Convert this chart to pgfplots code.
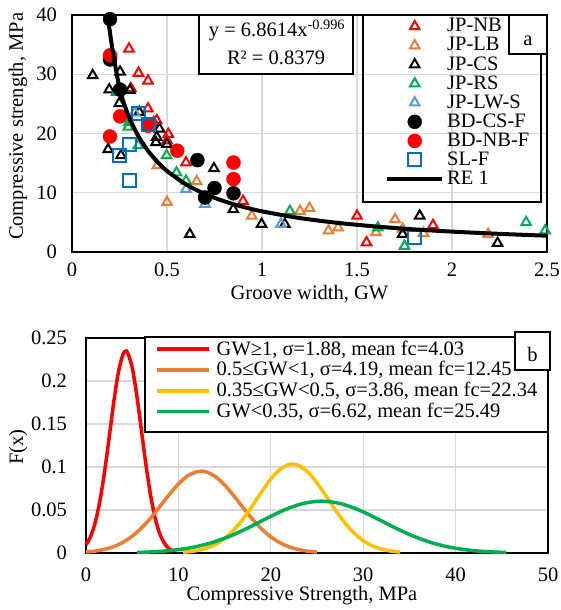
\documentclass[border=0pt]{standalone}
\usepackage{fontspec}
\setmainfont{Liberation Serif}
\usepackage{pgfplots}
\pgfplotsset{compat=1.18}

\definecolor{jpnb}{HTML}{FF0000}
\definecolor{jplb}{HTML}{ED7D31}
\definecolor{jprs}{HTML}{00B050}
\definecolor{jplw}{HTML}{5B9BD5}
\definecolor{slf}{HTML}{0070C0}
\definecolor{gwy}{HTML}{FFC000}
\definecolor{gridgray}{HTML}{D9D9D9}

% legend text cells with fixed height
\newcommand\lsa[1]{\rule[-4.6pt]{0pt}{18.6pt}#1}
\newcommand\lsb[1]{\rule[-5pt]{0pt}{19.7pt}#1}

\pgfplotsset{
  excel/.style={
    scale only axis,
    anchor=south west,
    axis line style={line width=1.5pt},
    grid=major,
    major grid style={gridgray, line width=1.2pt},
    major tick length=0pt,
    /pgf/number format/assume math mode=true,
    legend cell align=left,
  },
  tri/.style={only marks, mark=triangle, mark size=5.5pt, color=#1,
    mark options={line width=2pt}},
}

\begin{document}
\fontsize{20.5pt}{24pt}\selectfont
\begin{tikzpicture}[x=1pt,y=1pt]
\useasboundingbox (0,0) rectangle (561,610);

% ---------------- panel a ----------------
\begin{axis}[excel, at={(72pt,358pt)}, width=475pt, height=237pt,
  xmin=0, xmax=2.5, ymin=0, ymax=40,
  xtick={0,0.5,1,1.5,2,2.5}, xticklabels={0,0.5,1,1.5,2,2.5},
  ytick={0,10,20,30,40}, yticklabels={0,10,20,30,40},
  yticklabel shift=8pt, xticklabel shift=4pt,
  xlabel={Groove width, GW}, ylabel={Compressive strength, MPa},
  xlabel style={at={(axis description cs:0.5,-0.175)}, anchor=center},
  ylabel style={at={(axis description cs:-0.1137,0.53)}, anchor=center},
  clip mode=individual,
  legend style={at={(axis description cs:0.659,0.9928)}, anchor=north west,
    draw=none, fill=none, inner sep=0pt, row sep=0pt, column sep=3pt,
    nodes={inner xsep=0pt, inner ysep=1pt}},
  legend image code/.code={%
    \path[draw=none, fill=none] (0pt,-7pt) rectangle (55pt,7pt);
    \draw[mark repeat=2,mark phase=2,#1] plot coordinates {(0pt,0pt) (27.5pt,0pt) (55pt,0pt)};},
]
\addplot[tri=jpnb] coordinates {
  (0.30,34.3) (0.35,30.2) (0.40,28.9) (0.31,27.6) (0.40,24.2) (0.43,21.9)
  (0.446,22.2) (0.50,18.8) (0.507,19.9) (0.60,15.1) (0.90,8.6) (1.50,6.1)
  (1.55,1.6) (1.90,4.5)};
\addlegendentry{\lsa{JP-NB}}
\addplot[tri=jplb] coordinates {
  (0.449,14.6) (0.50,8.4) (0.656,11.9) (0.946,6.1) (1.2,6.9) (1.25,7.4)
  (1.35,3.6) (1.40,4.1) (1.60,3.3) (1.70,5.5) (1.74,3.9) (1.85,3.2) (2.19,3.0)};
\addlegendentry{\lsa{JP-LB}}
\addplot[tri=black] coordinates {
  (0.109,29.8) (0.253,30.4) (0.196,27.4) (0.305,27.3) (0.249,25.1) (0.354,23.6)
  (0.446,19.4) (0.50,18.2) (0.19,17.3) (0.258,16.3) (0.442,18.5) (0.46,20.8)
  (0.747,14.1) (0.62,3.0) (0.849,7.2) (0.998,4.7) (1.12,4.7) (1.83,6.1)
  (1.74,3.0) (2.24,1.5)};
\addlegendentry{\lsa{JP-CS}}
\addplot[tri=jprs] coordinates {
  (0.235,27.0) (0.30,21.9) (0.296,21.1) (0.349,18.0) (0.498,16.3) (0.55,13.4)
  (0.60,12.0) (1.147,6.9) (1.61,4.1) (1.75,1.0) (2.39,5.0) (2.49,3.6)};
\addlegendentry{\lsa{JP-RS}}
\addplot[tri=jplw] coordinates {
  (0.33,23.5) (0.60,10.6) (0.70,8.1) (1.10,4.7)};
\addlegendentry{\lsa{JP-LW-S}}
\addplot[only marks, mark=*, mark size=7pt, black] coordinates {
  (0.2,39.3) (0.2,32.5) (0.253,27.4) (0.66,15.5) (0.70,9.2) (0.75,10.8) (0.85,9.9)};
\addlegendentry{\lsa{BD-CS-F}}
\addplot[only marks, mark=*, mark size=7pt, red] coordinates {
  (0.2,33.2) (0.2,19.5) (0.253,22.9) (0.40,21.3) (0.554,17.1) (0.85,15.1) (0.85,12.3)};
\addlegendentry{\lsa{BD-NB-F}}
\addplot[only marks, mark=square, mark size=6.5pt, slf, mark options={line width=2pt}] coordinates {
  (0.25,16.3) (0.30,18.1) (0.305,12.1) (0.35,23.3) (0.40,21.5) (1.8,2.4)};
\addlegendentry{\lsa{SL-F}}
\addplot[black, line width=4pt, smooth, no markers] coordinates {
  (0.19,39.3) (0.214,34.0) (0.253,27.3) (0.3,22.76) (0.35,19.52) (0.4,17.09)
  (0.45,15.20) (0.5,13.68) (0.6,11.41) (0.7,9.79) (0.8,8.57) (0.9,7.62)
  (1.0,6.86) (1.2,5.72) (1.4,4.91) (1.6,4.30) (1.8,3.82) (2.0,3.44)
  (2.25,3.06) (2.5,2.75)};
\addlegendentry{\lsa{RE 1}}
\end{axis}

% legend frame, equation box, panel letter
\draw[line width=1.5pt] (363,408) rectangle (541,595);
\draw[line width=1.5pt, fill=white] (199,536) rectangle (353,595);
\node[anchor=base] at (277,573) {y = 6.8614x\textsuperscript{-0.996}};
\node[anchor=base] at (276,545) {R² = 0.8379};
\draw[line width=1.5pt, fill=white] (509,556) rectangle (547,595);
\node[anchor=base] at (528,564) {a};

% ---------------- panel b ----------------
\begin{axis}[excel, at={(86pt,57pt)}, width=462pt, height=215pt,
  xmin=0, xmax=50, ymin=0, ymax=0.25,
  xtick={0,10,20,30,40,50}, xticklabels={0,10,20,30,40,50},
  ytick={0,0.05,0.1,0.15,0.2,0.25}, yticklabels={0,0.05,0.1,0.15,0.2,0.25},
  yticklabel shift=12pt, xticklabel shift=8pt,
  xlabel={Compressive Strength, MPa}, ylabel={F(x)},
  xlabel style={at={(axis description cs:0.4675,-0.2)}, anchor=center},
  ylabel style={at={(axis description cs:-0.147,0.493)}, anchor=center},
  clip=false,
  legend style={at={(axis description cs:0.1494,0.997)}, anchor=north west,
    draw=none, fill=none, inner sep=0pt, row sep=0pt, column sep=6pt,
    nodes={inner xsep=0pt, inner ysep=1.5pt}},
  legend image code/.code={%
    \path[draw=none, fill=none] (0pt,-6pt) rectangle (52pt,6pt);
    \draw[#1] (0pt,0pt) -- (52pt,0pt);},
]
\draw[line width=1.5pt, fill=white] (rel axis cs:0.1277,1.0047) rectangle (rel axis cs:1,0.5628);
\addplot[red, line width=3.5pt, smooth] coordinates {
  (0,0.0096) (0.5,0.0193) (1,0.0357) (1.5,0.0605) (2,0.0940) (2.5,0.1340)
  (3,0.1752) (3.5,0.2101) (4,0.2311) (4.3,0.2347) (4.5,0.2331) (5,0.2156)
  (5.5,0.1830) (6,0.1424) (6.5,0.1016) (7,0.0665) (7.5,0.0399) (8,0.0220)
  (8.5,0.0111) (9,0.0051) (9.5,0.0022)};
\addlegendentry{\lsb{GW≥1, σ=1.88, mean fc=4.03}}
\addplot[jplb, line width=3.5pt, smooth] coordinates {
  (0,0.00115) (1,0.00228) (2,0.00425) (3,0.00748) (4,0.01245) (5,0.01959)
  (6,0.02911) (7,0.04085) (8,0.05416) (9,0.06783) (10,0.08024) (11,0.08967)
  (12,0.09465) (12.45,0.0952) (13,0.09438) (14,0.08891) (15,0.07910)
  (16,0.06649) (17,0.05279) (18,0.03959) (19,0.02805) (20,0.01877)
  (21,0.01187) (22,0.00709) (23,0.00400) (24,0.00213) (25,0.00107)};
\addlegendentry{\lsb{0.5≤GW<1, σ=4.19, mean fc=12.45}}
\addplot[gwy, line width=3.5pt, smooth] coordinates {
  (10.5,0.00094) (11,0.00138) (12,0.00286) (13,0.00554) (14,0.01002)
  (15,0.01696) (16,0.02683) (17,0.03971) (18,0.05496) (19,0.07111)
  (20,0.08605) (21,0.09735) (22,0.1030) (22.34,0.1034) (23,0.1019)
  (24,0.09427) (25,0.08154) (26,0.06597) (27,0.04989) (28,0.03529)
  (29,0.02334) (30,0.01443) (31,0.00835) (32,0.00451) (33,0.00228) (34,0.00108)};
\addlegendentry{\lsb{0.35≤GW<0.5, σ=3.86, mean fc=22.34}}
\addplot[jprs, line width=3.5pt, smooth] coordinates {
  (5.5,0.00063) (7.5,0.00150) (9.5,0.00325) (11.5,0.00644) (13.5,0.01166)
  (15.5,0.01926) (17.5,0.02904) (19.5,0.03997) (21.5,0.05022) (23.5,0.05758)
  (25.5,0.06027) (27.5,0.05758) (29.5,0.05022) (31.5,0.03997) (33.5,0.02904)
  (35.5,0.01926) (37.5,0.01166) (39.5,0.00644) (41.5,0.00325) (43.5,0.00150)
  (45.5,0.00063)};
\addlegendentry{\lsb{GW<0.35, σ=6.62, mean fc=25.49}}
\end{axis}

\draw[line width=1.5pt, fill=white] (515,240) rectangle (550,278);
\node[anchor=base] at (532.5,248) {b};
\end{tikzpicture}
\end{document}
